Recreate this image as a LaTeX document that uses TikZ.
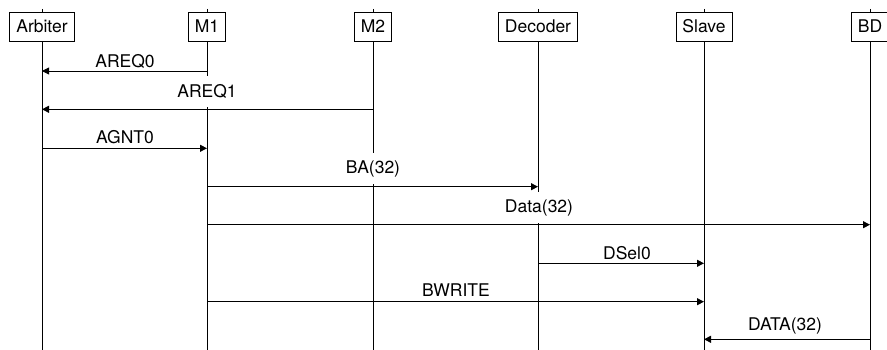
\documentclass[tikz,border=0pt]{standalone}
\usepackage{fontspec}
\setmainfont{TeX Gyre Heros}
\usetikzlibrary{arrows.meta}
\begin{document}
\begin{tikzpicture}[x=1pt,y=-1pt,
  every node/.style={font=\fontsize{17.5}{20}\selectfont},
  obj/.style={draw, fill=white, line width=0.9pt, minimum height=29pt, inner xsep=6.5pt, inner ysep=0pt},
  life/.style={line width=0.9pt},
  msg/.style={line width=0.9pt, -{Triangle[length=7pt,width=7pt]}},
  lbl/.style={fill=white, minimum height=31pt, inner xsep=2pt, inner ysep=0pt}]
\useasboundingbox (0,0) rectangle (887,350);
\clip (0,0) rectangle (887,350);
% lifeline ends
\coordinate (arbT) at (42,9);   \coordinate (arbB) at (42,350);
\coordinate (m1T)  at (207,9);  \coordinate (m1B)  at (207,350);
\coordinate (m2T)  at (373,9);  \coordinate (m2B)  at (373,350);
\coordinate (decT) at (538,9);  \coordinate (decB) at (538,350);
\coordinate (slT)  at (704,9);  \coordinate (slB)  at (704,350);
\coordinate (bdT)  at (870,9);  \coordinate (bdB)  at (870,350);
\foreach \o in {arb,m1,m2,dec,sl,bd} \draw[life] (\o T) -- (\o B);
% objects
\node[obj] (arb) at (42,26.5)  {Arbiter};
\node[obj] (m1)  at (207,26.5) {M1};
\node[obj] (m2)  at (373,26.5) {M2};
\node[obj] (dec) at (538,26.5) {Decoder};
\node[obj] (sl)  at (704,26.5) {Slave};
\node[obj] (bd)  at (870,26.5) {BD};
% labels
\node[lbl] (lareq0) at (125,61.5)  {AREQ0};
\node[lbl] (lareq1) at (207,91.5)  {AREQ1};
\node[lbl] (lagnt0) at (125,137)   {AGNT0};
\node[lbl] (lba)    at (373,168.5) {BA(32)};
\node[lbl] (ldata)  at (539,207.5) {Data(32)};
\node[lbl] (ldsel)  at (627,253)   {DSel0};
\node[lbl] (lbw)    at (456,290)   {BWRITE};
\node[lbl] (lDATA)  at (785,326)   {DATA(32)};
% messages
\draw[msg] (m1B |- 0,71)    -- (arbB |- 0,71);
\draw[msg] (m2B |- 0,109.3) -- (arbB |- 0,109.3);
\draw[msg] (arbB |- 0,148.3) -- (m1B |- 0,148.3);
\draw[msg] (m1B |- 0,186.7) -- (decB |- 0,186.7);
\draw[msg] (m1B |- 0,224.7) -- (bdB |- 0,224.7);
\draw[msg] (decB |- 0,263.3) -- (slB |- 0,263.3);
\draw[msg] (m1B |- 0,301.7) -- (slB |- 0,301.7);
\draw[msg] (bdB |- 0,339.3) -- (slB |- 0,339.3);
\end{tikzpicture}
\end{document}
